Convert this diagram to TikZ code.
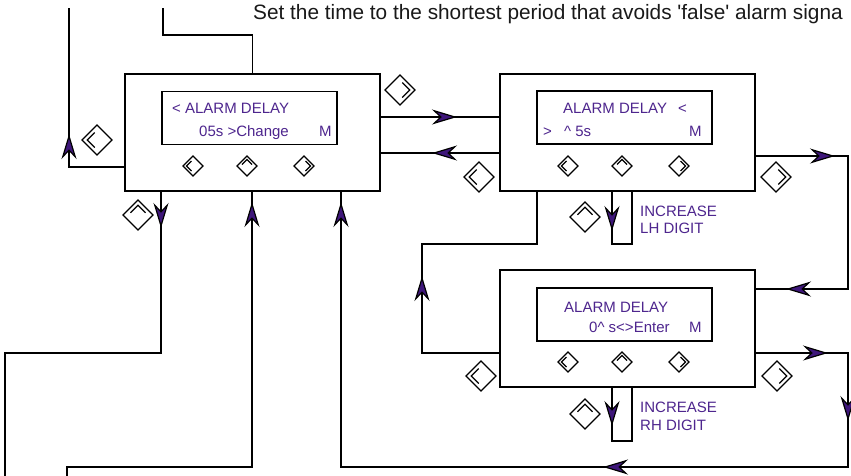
\documentclass[tikz,border=0pt]{standalone}
\usepackage{fontspec}
\setmainfont{Liberation Sans}
\usetikzlibrary{arrows.meta,decorations.markings}
\definecolor{lcdpurple}{RGB}{78,38,142}
\definecolor{tippurple}{RGB}{62,22,122}

\tikzset{
  panel/.style={draw, line width=1.6pt, minimum width=255pt, minimum height=117pt, inner sep=0pt, outer sep=0pt},
  lcd/.style={draw, line width=1.4pt, minimum width=175pt, minimum height=53pt, inner sep=0pt, outer sep=0pt},
  lcdtext/.style={anchor=base west, inner sep=0pt, text=lcdpurple, font=\fontsize{15}{18}\selectfont},
  wire/.style={line width=1.2pt},
  tipat/.style={postaction={decorate, decoration={markings, mark=at position #1 with {\arrow{>}}}}},
  btn/.pic={
    \draw[line width=1.2pt] (0,-10) -- (10,0) -- (0,10) -- (-10,0) -- cycle;
    \draw[line width=1.2pt] (-1.5,-5) -- (-6.5,0) -- (-1.5,5);
  },
}

\begin{document}
\begin{tikzpicture}[x=1pt, y=-1pt, >={Stealth[length=25pt, width=15pt, inset=8pt, fill=tippurple]}]
        \fill[white] (0,0) rectangle (851,475);
        \useasboundingbox (0,0) rectangle (851,475);
        \node[anchor=base west, inner sep=0pt, font=\fontsize{20.8}{25}\selectfont, text=black!90] (title) at (253,19)
            {Set the time to the shortest period that avoids \textquotesingle false\textquotesingle\ alarm signa};

        \node[panel] (b1) at (252.5,132.5) {};
        \node[panel] (b2) at (627.5,132.5) {};
        \node[panel] (b3) at (627.5,328.5) {};
        \node[lcd] (d1) at (249.5,118) {};
        \node[lcd] (d2) at (624.5,117.5) {};
        \node[lcd] (d3) at (624.5,314.5) {};

        \node[lcdtext] (d1a) at (172,113) {< ALARM DELAY};
        \node[lcdtext] (d1b) at (199,136) {05s >Change};
        \node[lcdtext] (d1m) at (319,136) {M};
        \node[lcdtext] (d2a) at (563,113) {ALARM DELAY};
        \node[lcdtext] (d2c) at (678,113) {<};
        \node[lcdtext] (d2b) at (543,136) {>};
        \node[lcdtext] (d2d) at (564,136) {\textasciicircum\ 5s};
        \node[lcdtext] (d2m) at (689,136) {M};
        \node[lcdtext] (d3a) at (564,312) {ALARM DELAY};
        \node[lcdtext] (d3b) at (589,332) {0\textasciicircum\ s<>Enter};
        \node[lcdtext] (d3m) at (689,332) {M};

        \node[lcdtext] (lh1) at (640,216) {INCREASE};
        \node[lcdtext] (lh2) at (640,233) {LH DIGIT};
        \node[lcdtext] (rh1) at (640,412) {INCREASE};
        \node[lcdtext] (rh2) at (640,430) {RH DIGIT};

        \foreach \bx/\by/\r in {193/166/0, 247/166/-90, 304/166/180,
                                568/166/0, 622/166/-90, 679/166/180,
                                568/362/0, 622/362/-90, 679/362/180}{
            \pic[rotate=\r] at (\bx,\by) {btn};
        }
        \foreach \bx/\by/\r in {97/140/0, 138/215/-90, 400/90/180,
                                479/177/0, 776/177/180, 585/217/-90,
                                481/376/0, 585/414/-90, 777/376/180}{
            \pic[scale=1.5, rotate=\r] at (\bx,\by) {btn};
        }

        \coordinate (top1) at (163,8);
        \coordinate (top2) at (69,8);
        \coordinate (bot1) at (5,476);
        \coordinate (bot2) at (67,476);

        \draw[wire] (b1.north) -- ++(0,-39) -| (top1);
        \draw[wire, tipat=89pt] (b1.west |- 0,167) -| (top2);
        \draw[wire, tipat=77pt] (b1.east |- 0,117) -- (b2.west |- 0,117);
        \draw[wire, tipat=68pt] (b2.west |- 0,153) -- (b1.east |- 0,153);
        \draw[wire, tipat=80pt, tipat=288pt] (b2.east |- 0,156) -| (848,289) -- (b3.east |- 0,289);
        \draw[wire, tipat=155pt] (b3.west |- 0,353) -| (422,244) -| (b2.south -| 537,0);
        \draw[wire, tipat=40pt] (b2.south -| 612,0) -- ++(0,53) -| (b2.south -| 632,0);
        \draw[wire, tipat=39pt] (b3.south -| 612,0) -- ++(0,54) -| (b3.south -| 632,0);
        \draw[wire, tipat=73pt, tipat=161pt, tipat=452pt, tipat=979pt] (b3.east |- 0,353) -| (848,467) -| (b1.south -| 341,0);
        \draw[wire, tipat=37pt] (b1.south -| 161,0) |- (bot1 |- 0,353) -- (bot1);
        \draw[wire, tipat=459pt] (bot2) |- (252,467) -- (b1.south -| 252,0);
\end{tikzpicture}
\end{document}
